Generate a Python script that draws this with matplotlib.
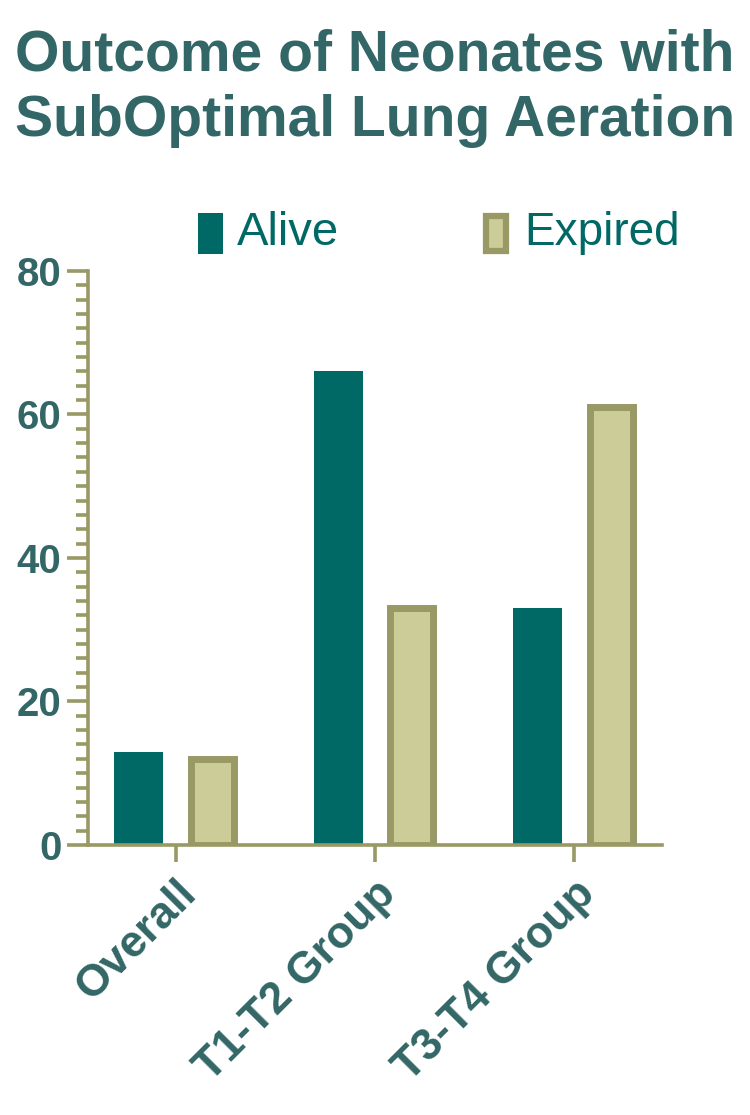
import numpy as np
import matplotlib.pyplot as plt
from matplotlib.patches import Rectangle
from matplotlib.ticker import MultipleLocator

categories = ['Overall', 'T1-T2 Group', 'T3-T4 Group']
alive = [13, 66, 33]
expired = [12, 33, 61]
series_names = ['Alive', 'Expired']

TEAL = '#006865'
TEXT = '#336666'
OLIVE = '#999966'
SAND = '#CCCC99'

plt.rcParams['font.family'] = ['Liberation Sans', 'DejaVu Sans']

fig = plt.figure(figsize=(7.5, 11.15), dpi=100)
ax = fig.add_axes([0.1173, 0.2422, 0.7654, 0.5148])

x = np.arange(len(categories))
w = 0.245
ax.bar(x - 0.185, alive, w, color=TEAL, edgecolor='none', zorder=2)
ax.bar(x + 0.185, expired, w - 0.03, color=SAND, edgecolor=OLIVE, linewidth=5, zorder=2)

ax.set_xlim(-0.44, 2.44)
ax.set_ylim(0, 80)
ax.yaxis.set_major_locator(MultipleLocator(20))
ax.yaxis.set_minor_locator(MultipleLocator(2))
ax.set_xticks(x)
ax.set_xticklabels(categories, rotation=45, ha='right', rotation_mode='anchor',
                   fontsize=32, fontweight='bold', color=TEXT)
for lbl in ax.get_yticklabels():
    lbl.set_fontsize(29)
    lbl.set_fontweight('bold')
    lbl.set_color(TEXT)

for s in ['top', 'right']:
    ax.spines[s].set_visible(False)
for s in ['left', 'bottom']:
    ax.spines[s].set_color(OLIVE)
    ax.spines[s].set_linewidth(2.6)

ax.tick_params(axis='y', which='major', length=15, width=2.6, color=OLIVE, pad=4)
ax.tick_params(axis='y', which='minor', length=8.5, width=2.6, color=OLIVE)
ax.tick_params(axis='x', which='major', length=12, width=2.6, color=OLIVE, pad=8)

# legend drawn in figure coordinates
fig.patches.append(Rectangle((198 / 750, 1 - 254 / 1115), 25 / 750, 41 / 1115,
                             transform=fig.transFigure, facecolor=TEAL, edgecolor='none'))
fig.patches.append(Rectangle((486 / 750, 1 - 251 / 1115), 20 / 750, 35 / 1115,
                             transform=fig.transFigure, facecolor=SAND, edgecolor=OLIVE,
                             linewidth=4.5))
fig.text(237 / 750, 1 - 233 / 1115, series_names[0], fontsize=34, color=TEAL, va='center', ha='left')
fig.text(524 / 750, 1 - 233 / 1115, series_names[1], fontsize=33, color=TEAL, va='center', ha='left')

fig.text(0.5, 1 - 88 / 1115, 'Outcome of Neonates with\nSubOptimal Lung Aeration',
         fontsize=41, fontweight='bold', color=TEXT, ha='center', va='center',
         linespacing=1.27)

fig.savefig('out.png', dpi=100)
